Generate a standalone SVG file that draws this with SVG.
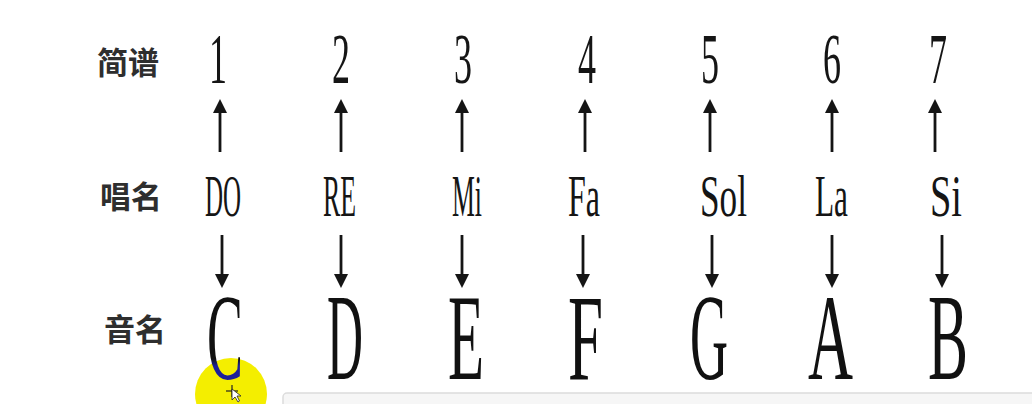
<svg xmlns="http://www.w3.org/2000/svg" width="1032" height="404" viewBox="0 0 1032 404">
<style>
.lbl{font-family:"Noto Sans CJK SC","Noto Sans CJK JP",sans-serif;font-weight:bold;font-size:31px;fill:#2e2e2e}
.num{font-family:"Liberation Serif",serif;font-size:71px;fill:#151515}
.sol{font-family:"Liberation Serif",serif;font-size:59px;fill:#151515}
.note{font-family:"Liberation Serif",serif;font-size:122px;fill:#111}
.arr{stroke:#151515;stroke-width:2.8;fill:none}
</style>
<defs>
<marker id="head" viewBox="0 0 10 10" refX="6.4" refY="5" markerUnits="userSpaceOnUse" markerWidth="14" markerHeight="14" orient="auto">
<path d="M0,0 L10,5 L0,10 Z" fill="#151515"/>
</marker>
<linearGradient id="cfill" gradientUnits="userSpaceOnUse" x1="0" y1="359" x2="0" y2="366">
<stop offset="0" stop-color="#111"/>
<stop offset="1" stop-color="#1b1f9a"/>
</linearGradient>
</defs>
<rect width="1032" height="404" fill="#fff"/>
<rect x="283" y="393" width="760" height="30" rx="4" fill="#f6f6f6" stroke="#dcdcdc" stroke-width="1.5"/>
<circle cx="231" cy="394" r="36" fill="#f4ee00"/>

<g id="labels">
<g id="label-jianpu"><text class="lbl" x="97" y="74">简谱</text></g>
<g id="label-changming"><text class="lbl" x="100" y="208">唱名</text></g>
<g id="label-yinming"><text class="lbl" x="104" y="341">音名</text></g>
</g>

<g id="numbers">
<g id="n1"><text class="num" x="209" y="83" textLength="18" lengthAdjust="spacingAndGlyphs">1</text></g>
<g id="n2"><text class="num" x="332" y="83" textLength="18" lengthAdjust="spacingAndGlyphs">2</text></g>
<g id="n3"><text class="num" x="454" y="83" textLength="18" lengthAdjust="spacingAndGlyphs">3</text></g>
<g id="n4"><text class="num" x="578" y="83" textLength="18" lengthAdjust="spacingAndGlyphs">4</text></g>
<g id="n5"><text class="num" x="701" y="83" textLength="18" lengthAdjust="spacingAndGlyphs">5</text></g>
<g id="n6"><text class="num" x="823" y="83" textLength="18" lengthAdjust="spacingAndGlyphs">6</text></g>
<g id="n7"><text class="num" x="929" y="83" textLength="18" lengthAdjust="spacingAndGlyphs">7</text></g>
</g>

<g id="solfege">
<g id="s-do"><text class="sol" x="205" y="216" textLength="36" lengthAdjust="spacingAndGlyphs">DO</text></g>
<g id="s-re"><text class="sol" x="323" y="216" textLength="33" lengthAdjust="spacingAndGlyphs">RE</text></g>
<g id="s-mi"><text class="sol" x="452" y="216" textLength="30" lengthAdjust="spacingAndGlyphs">Mi</text></g>
<g id="s-fa"><text class="sol" x="568" y="216" textLength="32" lengthAdjust="spacingAndGlyphs">Fa</text></g>
<g id="s-sol"><text class="sol" x="700" y="216" textLength="47" lengthAdjust="spacingAndGlyphs">Sol</text></g>
<g id="s-la"><text class="sol" x="815" y="216" textLength="33" lengthAdjust="spacingAndGlyphs">La</text></g>
<g id="s-si"><text class="sol" x="930" y="216" textLength="32" lengthAdjust="spacingAndGlyphs">Si</text></g>
</g>

<g id="notes">
<g id="note-c"><text class="note" x="207" y="379" textLength="36" lengthAdjust="spacingAndGlyphs" style="fill:url(#cfill)">C</text></g>
<g id="note-d"><text class="note" x="327" y="379" textLength="36" lengthAdjust="spacingAndGlyphs">D</text></g>
<g id="note-e"><text class="note" x="448" y="379" textLength="36" lengthAdjust="spacingAndGlyphs">E</text></g>
<g id="note-f"><text class="note" x="568" y="379" textLength="35" lengthAdjust="spacingAndGlyphs">F</text></g>
<g id="note-g"><text class="note" x="690" y="379" textLength="38" lengthAdjust="spacingAndGlyphs">G</text></g>
<g id="note-a"><text class="note" x="808" y="379" textLength="45" lengthAdjust="spacingAndGlyphs">A</text></g>
<g id="note-b"><text class="note" x="928" y="379" textLength="40" lengthAdjust="spacingAndGlyphs">B</text></g>
</g>

<g id="connectors" class="arr" marker-end="url(#head)">
<line x1="220" y1="152" x2="220" y2="104"/>
<line x1="341" y1="152" x2="341" y2="104"/>
<line x1="462" y1="152" x2="462" y2="104"/>
<line x1="585" y1="152" x2="585" y2="104"/>
<line x1="710" y1="152" x2="710" y2="104"/>
<line x1="832" y1="152" x2="832" y2="104"/>
<line x1="935" y1="152" x2="935" y2="104"/>
<line x1="222" y1="235" x2="222" y2="283"/>
<line x1="341" y1="235" x2="341" y2="283"/>
<line x1="462" y1="235" x2="462" y2="283"/>
<line x1="583" y1="235" x2="583" y2="283"/>
<line x1="712" y1="235" x2="712" y2="283"/>
<line x1="832" y1="235" x2="832" y2="283"/>
<line x1="942" y1="235" x2="942" y2="283"/>
</g>

<g id="cursor" stroke="#222" stroke-width="1.2" fill="#222">
<line x1="226" y1="391" x2="238" y2="391"/>
<line x1="232" y1="385" x2="232" y2="397"/>
<path d="M232,389 L232,400 L235,397 L238,402 L239.5,401 L237,396 L241,396 Z" fill="#fff" stroke="#222" stroke-width="0.8"/>
</g>
</svg>
